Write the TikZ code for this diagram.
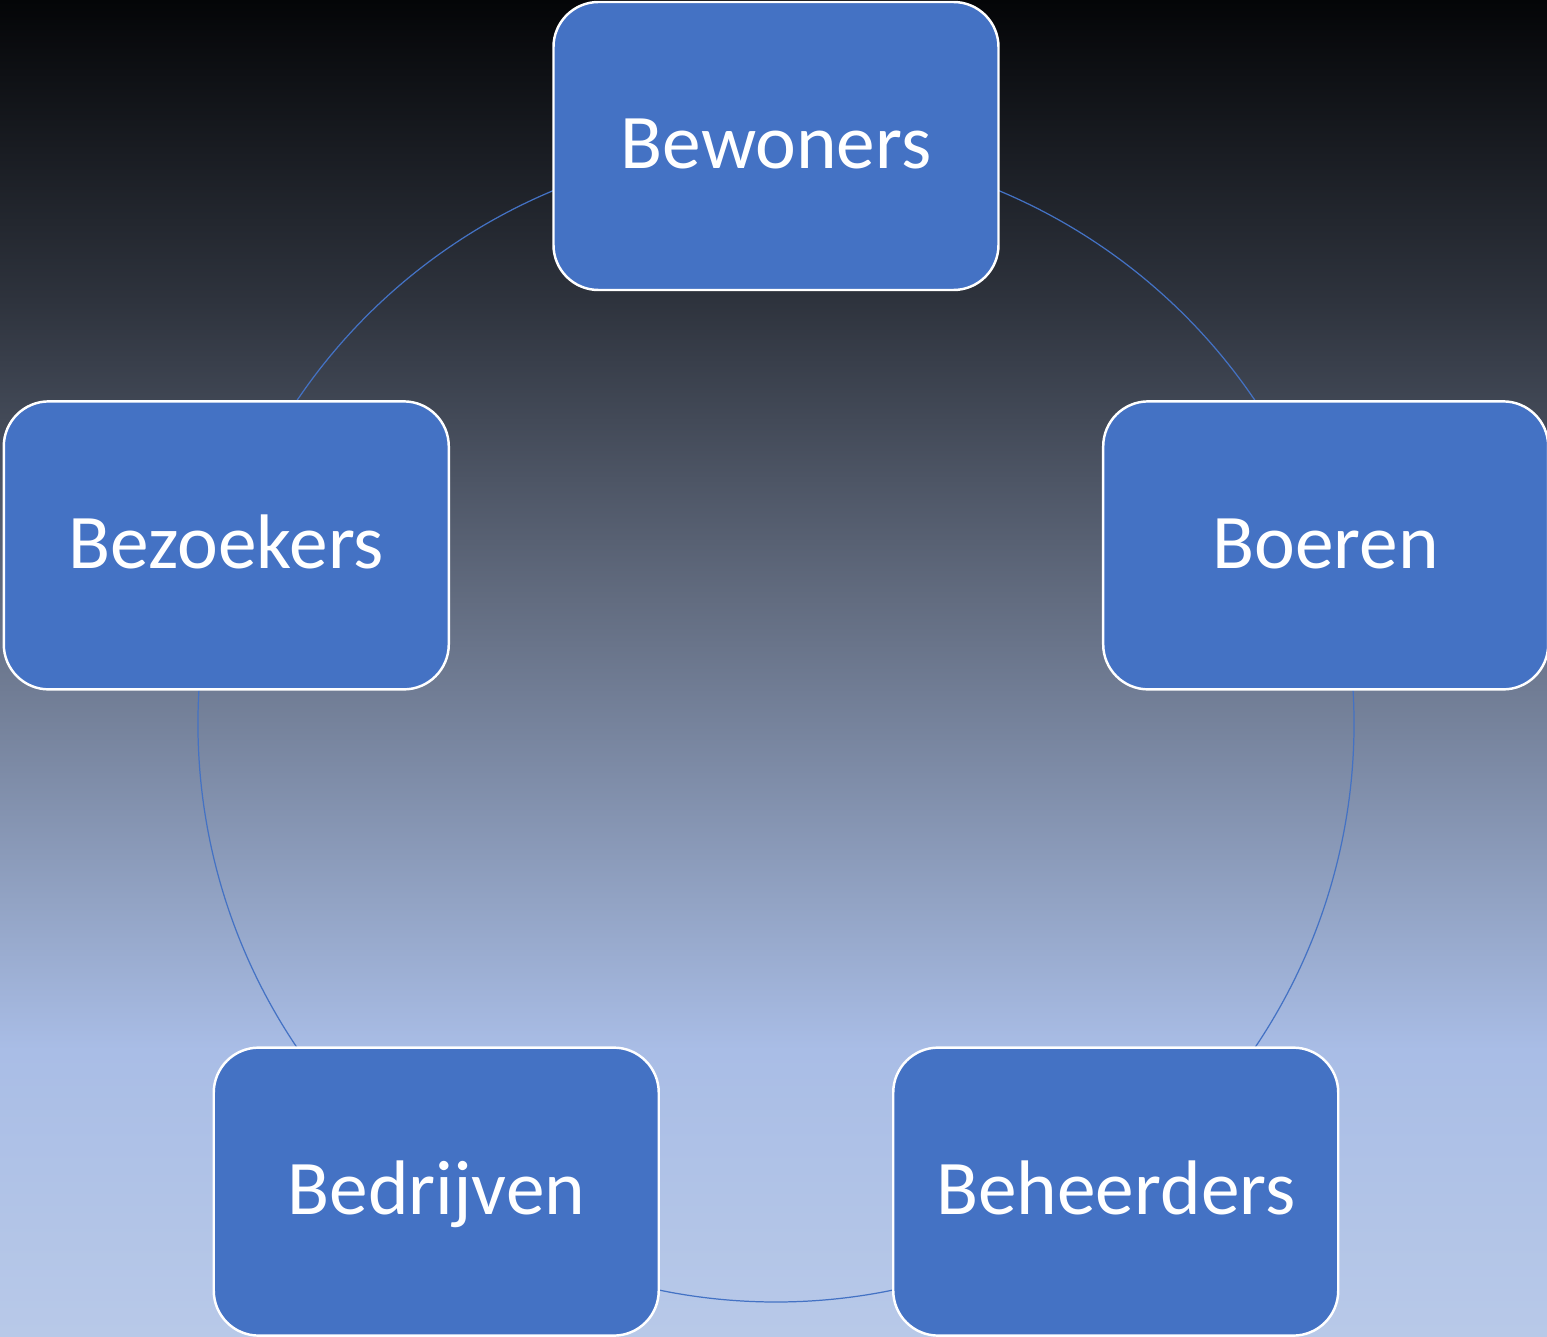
\documentclass[tikz,border=0pt]{standalone}
\usepackage{fontspec}
\newfontfamily\carlito{Carlito}
\usetikzlibrary{backgrounds}

\definecolor{boxblue}{HTML}{4472C4}
\definecolor{bgA}{HTML}{040507}
\definecolor{bgB}{HTML}{2E333D}
\definecolor{bgC}{HTML}{626C80}
\definecolor{bgD}{HTML}{92A3C4}
\definecolor{bgE}{HTML}{A9BDE6}
\definecolor{bgF}{HTML}{B8C9E8}
% stops between 25bp and 75bp (the part that fills the path)
\pgfdeclareverticalshading{slide}{100bp}{
  color(0bp)=(bgF); color(25bp)=(bgF); color(35.7bp)=(bgE); color(41.3bp)=(bgD);
  color(52.55bp)=(bgC); color(63.75bp)=(bgB); color(75bp)=(bgA); color(100bp)=(bgA)}

\begin{document}
\begin{tikzpicture}[
stake/.style={
  draw=white,
  line width=0.7pt,
  fill=boxblue,
  rounded corners=0.45cm,
  minimum width=4.45cm,
  minimum height=2.88cm,
  inner sep=0pt,
  text height=0.6cm,
  text depth=0.14cm,
  text=white,
  font=\carlito\fontsize{22}{26}\selectfont
},
ring/.style={
  draw=boxblue,
  line width=0.35pt
}
]
\useasboundingbox (-7.76,-6.12) rectangle (7.71,7.24);

\node[stake] at (90:5.78)   (bew) {Bewoners};
\node[stake] at (18:5.78)   (boe) {Boeren};
\node[stake] at (-54:5.78)  (beh) {Beheerders};
\node[stake] at (-126:5.78) (bed) {Bedrijven};
\node[stake] at (162:5.78)  (bez) {Bezoekers};

\begin{scope}[on background layer]
\shade[shading=slide] (-7.76,-6.12) rectangle (7.71,7.24);
\draw[ring] (bew.center) arc[start angle=90, end angle=18, radius=5.78];
\draw[ring] (boe.center) arc[start angle=18, end angle=-54, radius=5.78];
\draw[ring] (beh.center) arc[start angle=-54, end angle=-126, radius=5.78];
\draw[ring] (bed.center) arc[start angle=-126, end angle=-198, radius=5.78];
\draw[ring] (bez.center) arc[start angle=162, end angle=90, radius=5.78];
\end{scope}
\end{tikzpicture}
\end{document}
